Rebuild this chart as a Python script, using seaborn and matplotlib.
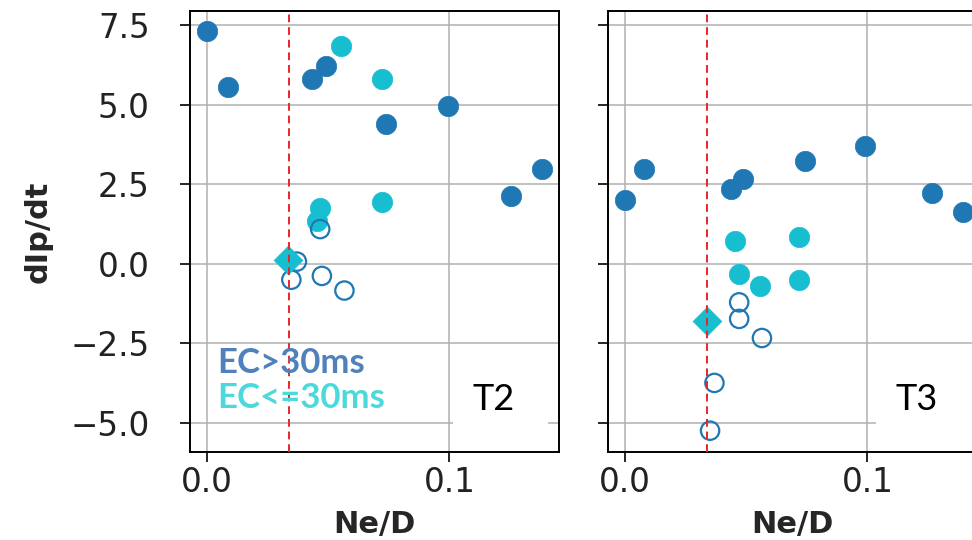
import matplotlib
matplotlib.use("Agg")
import matplotlib.pyplot as plt
from matplotlib.patches import Rectangle
import seaborn as sns

# ---- data: Ne/D vs dIp/dt ----
# T2
t2_long_x = [0.000, 0.0085, 0.0433, 0.0490, 0.0738, 0.0993, 0.1254, 0.1383]
t2_long_y = [7.30, 5.56, 5.82, 6.21, 4.39, 4.97, 2.14, 2.97]
t2_short_x = [0.0552, 0.0721, 0.0721, 0.0467, 0.0455]
t2_short_y = [6.84, 5.81, 1.94, 1.75, 1.33]
t2_open_x = [0.0467, 0.0371, 0.0348, 0.0474, 0.0567]
t2_open_y = [1.09, 0.07, -0.50, -0.38, -0.84]
t2_diamond_x = [0.0336]
t2_diamond_y = [0.13]

# T3
t3_long_x = [0.000, 0.0077, 0.0436, 0.0487, 0.0744, 0.0992, 0.1265, 0.1394]
t3_long_y = [2.01, 2.97, 2.34, 2.65, 3.23, 3.69, 2.22, 1.63]
t3_short_x = [0.0453, 0.0719, 0.0471, 0.0557, 0.0719]
t3_short_y = [0.72, 0.84, -0.31, -0.71, -0.52]
t3_open_x = [0.0471, 0.0471, 0.0565, 0.0369, 0.0351]
t3_open_y = [-1.21, -1.73, -2.33, -3.74, -5.24]
t3_diamond_x = [0.0340]
t3_diamond_y = [-1.81]

threshold = 0.034
panel_names = ["T2", "T3"]
x_ticks = [0.0, 0.1]
y_ticks = [-5.0, -2.5, 0.0, 2.5, 5.0, 7.5]
legend_labels = ["EC>30ms", "EC<=30ms"]

BLUE = "#1f77b4"
CYAN = "#17becf"

sns.set_style("ticks")
plt.rcParams["font.family"] = ["DejaVu Sans"]

fig = plt.figure(figsize=(9.72, 5.4), dpi=100)
W, H = 972, 540
ax_w, ax_h = 369, 441
bottom = (H - 452) / H
ax1 = fig.add_axes([190 / W, bottom, ax_w / W, ax_h / H])
ax2 = fig.add_axes([608 / W, bottom, ax_w / W, ax_h / H], sharey=ax1)

panels = [
    (ax1, t2_long_x, t2_long_y, t2_short_x, t2_short_y, t2_open_x, t2_open_y, t2_diamond_x, t2_diamond_y),
    (ax2, t3_long_x, t3_long_y, t3_short_x, t3_short_y, t3_open_x, t3_open_y, t3_diamond_x, t3_diamond_y),
]

for ax, lx, ly, sx, sy, ox, oy, dx, dy in panels:
    ax.grid(True, color="#b0b0b0", linewidth=1.1, zorder=0)
    ax.set_axisbelow(True)
    sns.scatterplot(x=lx, y=ly, ax=ax, color=BLUE, s=215, edgecolor=BLUE,
                    linewidth=0.5, zorder=3, legend=False)
    sns.scatterplot(x=sx, y=sy, ax=ax, color=CYAN, s=215, edgecolor=CYAN,
                    linewidth=0.5, zorder=3, legend=False)
    sns.scatterplot(x=ox, y=oy, ax=ax, facecolor="none", edgecolor=BLUE,
                    s=175, linewidth=1.6, zorder=3, legend=False)
    sns.scatterplot(x=dx, y=dy, ax=ax, color=CYAN, marker="D", s=215,
                    edgecolor=CYAN, linewidth=0.5, zorder=4, legend=False)
    ax.axvline(threshold, color="#e8262a", linestyle=(0, (4, 2.5)),
               linewidth=1.4, zorder=6)
    ax.set_xlim(-0.007, 0.1452)
    ax.set_ylim(-5.91, 7.94)
    ax.set_xticks(x_ticks)
    ax.set_xticklabels([f"{v:.1f}" for v in x_ticks])
    ax.set_yticks(y_ticks)
    ax.tick_params(axis="both", labelsize=23.5, length=7, width=1.2,
                   color="black", labelcolor="#222222")
    ax.tick_params(axis="x", pad=3)
    ax.tick_params(axis="y", pad=22)
    for sp in ax.spines.values():
        sp.set_linewidth(1.4)
        sp.set_color("black")
    ax.set_xlabel("Ne/D", fontsize=22, fontweight="bold", labelpad=8)

ax1.set_ylabel("dIp/dt", fontsize=22, fontweight="bold", labelpad=13)
ax1.set_yticklabels([f"{v:.1f}".replace("-", "\u2212") for v in y_ticks])
ax2.tick_params(axis="y", labelleft=False)
ax2.set_ylabel("")

# group labels
fig.text(217 / W, 1 - 363 / H, legend_labels[0], color="#4f81bd", fontsize=25,
         fontweight="bold", family=["Lato", "DejaVu Sans"], va="center", ha="left", zorder=5)
fig.text(217 / W, 1 - 398 / H, legend_labels[1], color="#4dd9dc", fontsize=25,
         fontweight="bold", family=["Lato", "DejaVu Sans"], va="center", ha="left", zorder=5)

# panel name tags on white boxes
for (x0, x1, cx), name in zip([(453, 548, 494), (876, 972, 917)], panel_names):
    fig.patches.append(Rectangle((x0 / W, 1 - 436 / H), (x1 - x0) / W, 64 / H,
                                 transform=fig.transFigure, facecolor="white",
                                 edgecolor="none", zorder=5))
    fig.text(cx / W, 1 - 400 / H, name, fontsize=26, color="black",
             family=["Lato", "DejaVu Sans"], ha="center", va="center", zorder=6)

fig.savefig("out.png", dpi=100)
